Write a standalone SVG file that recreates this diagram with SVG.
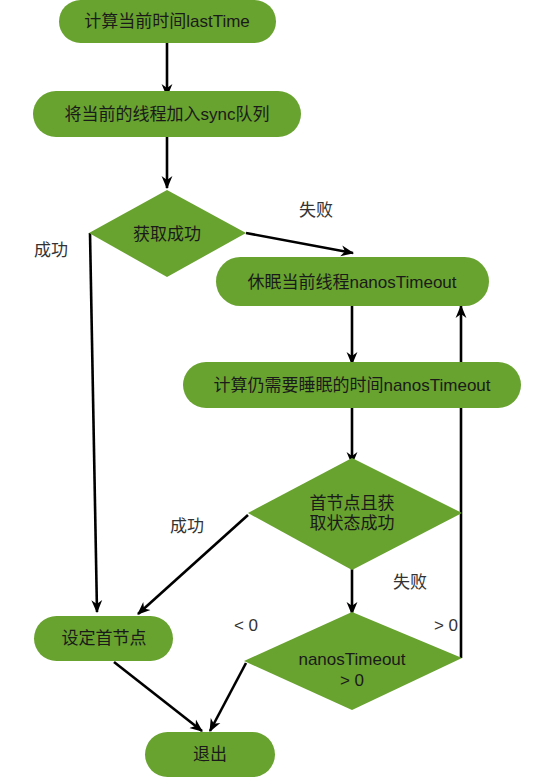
<svg xmlns="http://www.w3.org/2000/svg" width="538" height="778" viewBox="0 0 538 778">
<style>
.n{fill:#68a22f;}
.t{font-family:"Liberation Sans","Noto Sans CJK SC",sans-serif;font-size:17px;fill:#1a1a1a;text-anchor:middle;}
.l{font-family:"Liberation Sans","Noto Sans CJK SC",sans-serif;font-size:17px;fill:#333;text-anchor:middle;}
.c{stroke:#000;stroke-width:2.6;fill:none;marker-end:url(#a);}
.p{stroke:#000;stroke-width:2.6;fill:none;}
</style>
<defs>
<marker id="a" viewBox="0 0 12 12" refX="11" refY="6" markerWidth="5" markerHeight="5" orient="auto" markerUnits="strokeWidth">
<path d="M0,1 L12,6 L0,11 L3.5,6 z" fill="#000"/>
</marker>
</defs>
<rect width="538" height="778" fill="#fff"/>
<g id="connectors">
<line class="c" x1="167" y1="42" x2="167" y2="96"/>
<line class="c" x1="167" y1="137" x2="167" y2="188"/>
<line class="c" x1="246" y1="233" x2="353" y2="253"/>
<line class="c" x1="90" y1="233" x2="97" y2="612"/>
<line class="c" x1="352" y1="306" x2="352" y2="364"/>
<line class="c" x1="461" y1="658" x2="461" y2="306"/>
<line class="c" x1="352" y1="408" x2="352" y2="464"/>
<line class="c" x1="248" y1="515" x2="138" y2="614"/>
<line class="c" x1="352" y1="567" x2="352" y2="614"/>
<line class="c" x1="246" y1="663" x2="210" y2="731"/>
<line class="c" x1="114" y1="662" x2="202" y2="731"/>
</g>
<g id="n1"><rect class="n" x="59" y="0" width="217" height="43" rx="21.5"/><text class="t" x="167" y="27">计算当前时间lastTime</text></g>
<g id="n2"><rect class="n" x="33" y="91" width="268" height="46" rx="23"/><text class="t" x="167" y="120">将当前的线程加入sync队列</text></g>
<g id="d1"><polygon class="n" points="167,190 246,233 167,277 89,233"/><text class="t" x="167" y="240">获取成功</text></g>
<g id="n3"><rect class="n" x="216" y="257" width="273" height="49" rx="24.5"/><text class="t" x="352" y="288">休眠当前线程nanosTimeout</text></g>
<g id="n4"><rect class="n" x="183" y="362" width="338" height="46" rx="23"/><text class="t" x="352" y="391">计算仍需要睡眠的时间nanosTimeout</text></g>
<g id="d2"><polygon class="n" points="352,458 462,513 352,570 248,513"/><text class="t" x="352" y="509">首节点且获</text><text class="t" x="352" y="529">取状态成功</text></g>
<g id="d3"><polygon class="n" points="352,612 462,658 352,710 244,661"/><text class="t" x="352" y="665">nanosTimeout</text><text class="t" x="352" y="686">&gt; 0</text></g>
<g id="n5"><rect class="n" x="34" y="616" width="139" height="45" rx="22.5"/><text class="t" x="104" y="644">设定首节点</text></g>
<g id="n6"><rect class="n" x="145" y="732" width="130" height="45" rx="22.5"/><text class="t" x="210" y="760">退出</text></g>
<g id="labels">
<text class="l" x="51" y="256">成功</text>
<text class="l" x="316" y="216">失败</text>
<text class="l" x="187" y="532">成功</text>
<text class="l" x="410" y="588">失败</text>
<text class="l" x="246" y="631">&lt; 0</text>
<text class="l" x="446" y="631">&gt; 0</text>
</g>
</svg>
